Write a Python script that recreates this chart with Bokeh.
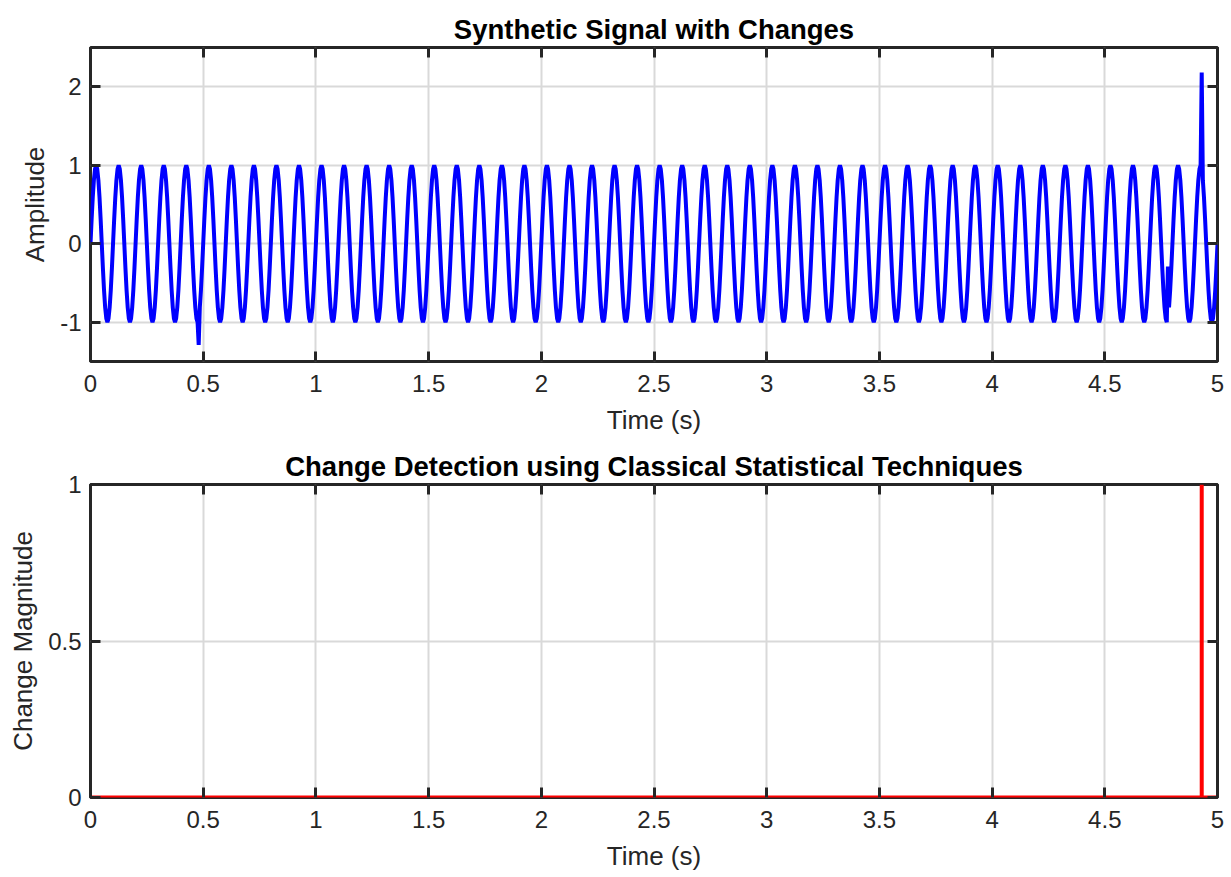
import numpy as np
from bokeh.plotting import figure
from bokeh.models import Range1d, FixedTicker, LinearAxis, NumeralTickFormatter
from bokeh.layouts import column
from bokeh.embed import file_html
from bokeh.resources import INLINE

# ---- data ----
# one 0.1 s period of the signal, sampled every 5 ms
cycle_values = [0.0, 0.31, 0.59, 0.81, 0.95, 1.0, 0.95, 0.81, 0.59, 0.31,
                0.0, -0.31, -0.59, -0.81, -0.95, -1.0, -0.95, -0.81, -0.59, -0.31]
cycle_count = 50
sample_step = 0.005
end_value = 0.0
spike_times = [0.48, 4.78, 4.93]
spike_values = [-1.29, -0.29, 2.18]

change_times = [0.0, 4.93, 4.93, 4.93, 5.0]
change_values = [0, 0, 1, 0, 0]

x_ticks = [0, 0.5, 1, 1.5, 2, 2.5, 3, 3.5, 4, 4.5, 5]
x_tick_labels = ["0", "0.5", "1", "1.5", "2", "2.5", "3", "3.5", "4", "4.5", "5"]
amp_ticks = [-1, 0, 1, 2]
amp_tick_labels = ["-1", "0", "1", "2"]
mag_ticks = [0, 0.5, 1]
mag_tick_labels = ["0", "0.5", "1"]

signal = list(np.tile(cycle_values, cycle_count)) + [end_value]
times = [i * sample_step for i in range(len(signal))]
for st, sv in zip(spike_times, spike_values):
    signal[int(round(st / sample_step))] = sv

FONT = "Liberation Sans"
TXT = "#262626"


def make_fig(yr, yticks, ylabels, ytitle, title, top_b, bottom_b, frame_h):
    p = figure(frame_width=1127, frame_height=frame_h,
               x_range=Range1d(0, 5), y_range=Range1d(*yr),
               output_backend="svg", toolbar_location=None,
               min_border_left=90, min_border_right=14,
               min_border_top=top_b, min_border_bottom=bottom_b)
    p.background_fill_color = "white"
    p.border_fill_color = "white"
    p.outline_line_color = TXT
    p.outline_line_width = 3

    p.title.text = title
    p.title.align = "center"
    p.title.text_font = FONT
    p.title.text_font_size = "27.5px"
    p.title.text_font_style = "bold"
    p.title.text_color = "black"
    p.title.standoff = 6

    bottom = p.xaxis[0]
    left = p.yaxis[0]
    xt = FixedTicker(ticks=x_ticks)
    yt = FixedTicker(ticks=yticks)
    bottom.ticker = xt
    left.ticker = yt
    p.xgrid[0].ticker = xt
    p.ygrid[0].ticker = yt
    bottom.major_label_overrides = dict(zip(x_ticks, x_tick_labels))
    left.major_label_overrides = dict(zip(yticks, ylabels))
    bottom.formatter = NumeralTickFormatter(format="0.[0]")
    left.formatter = NumeralTickFormatter(format="0.[0]")
    bottom.axis_label = "Time (s)"
    left.axis_label = ytitle

    top = LinearAxis(ticker=xt)
    right = LinearAxis(ticker=yt)
    for ax in (top, right):
        ax.major_label_text_font_size = "0px"
        ax.major_label_standoff = 0
        ax.major_label_text_color = None
    p.add_layout(top, "above")
    p.add_layout(right, "right")

    for ax in (bottom, left, top, right):
        ax.major_tick_in = 10
        ax.major_tick_out = 0
        ax.major_tick_line_width = 3
        ax.major_tick_line_color = TXT
        ax.minor_tick_line_color = None
        ax.axis_line_color = None
    for ax in (bottom, left):
        ax.major_label_text_font = FONT
        ax.major_label_text_font_size = "24px"
        ax.major_label_text_color = TXT
        ax.axis_label_text_font = FONT
        ax.axis_label_text_font_size = "26px"
        ax.axis_label_text_font_style = "normal"
        ax.axis_label_text_color = TXT
    bottom.major_label_standoff = 13
    bottom.axis_label_standoff = 10
    left.major_label_standoff = 9
    left.axis_label_standoff = 7

    for g in (p.xgrid[0], p.ygrid[0]):
        g.grid_line_color = "#d9d9d9"
        g.grid_line_width = 2
    return p


p1 = make_fig((-1.5, 2.5), amp_ticks, amp_tick_labels, "Amplitude",
              "Synthetic Signal with Changes", 47, 84, 314)
p1.line(times, signal, line_color="#0000ff", line_width=4)

p2 = make_fig((0, 1), mag_ticks, mag_tick_labels, "Change Magnitude",
              "Change Detection using Classical Statistical Techniques", 39, 79, 313)
p2.line(change_times, change_values, line_color="#ff0000", line_width=4)

layout = column(p1, p2, spacing=0)
open("out.html", "w").write(file_html(layout, INLINE))
